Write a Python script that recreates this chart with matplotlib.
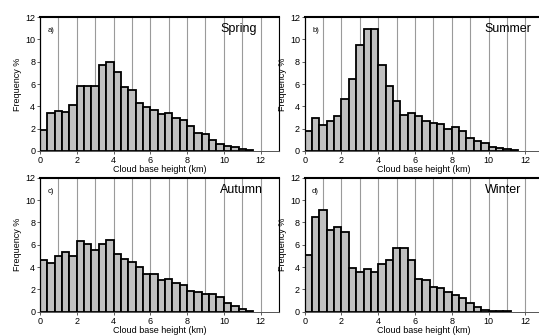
import numpy as np
import matplotlib
matplotlib.use("Agg")
import matplotlib.pyplot as plt

plt.rcParams['font.family'] = ['Liberation Sans', 'DejaVu Sans']

# bin left edges (km), 0.4 km bins
bin_width = 0.4

spring = [1.9, 3.4, 3.6, 3.5, 4.1, 5.85, 5.85, 5.85, 7.7, 8.0, 7.1, 5.75, 5.5,
          4.3, 3.9, 3.7, 3.3, 3.45, 2.95, 2.75, 2.2, 1.6, 1.5, 1.0, 0.65, 0.45,
          0.33, 0.15, 0.05]
summer = [1.75, 3.0, 2.35, 2.65, 3.1, 4.65, 6.45, 9.5, 10.95, 10.95, 7.7, 5.85,
          4.5, 3.2, 3.4, 3.1, 2.65, 2.5, 2.4, 1.95, 2.15, 1.8, 1.15, 0.9, 0.75,
          0.4, 0.3, 0.15, 0.05]
autumn = [4.65, 4.35, 4.95, 5.35, 4.95, 6.35, 6.1, 5.5, 6.1, 6.45, 5.2, 4.75,
          4.45, 4.05, 3.35, 3.4, 2.8, 2.9, 2.55, 2.35, 1.9, 1.75, 1.55, 1.55,
          1.3, 0.75, 0.5, 0.22, 0.03]
winter = [5.1, 8.45, 9.15, 7.3, 7.6, 7.1, 3.9, 3.55, 3.8, 3.6, 4.25, 4.65, 5.7,
          5.75, 4.6, 2.95, 2.8, 2.2, 2.1, 1.75, 1.5, 1.2, 0.8, 0.4, 0.12, 0.08,
          0.08, 0.03]

seasons = ['Spring', 'Summer', 'Autumn', 'Winter']
letters = ['a)', 'b)', 'c)', 'd)']
data = [spring, summer, autumn, winter]

fig = plt.figure(figsize=(5.39, 3.36), dpi=100)

w = 0.4434
h = 0.3985
positions = [(0.0742, 0.5506), (0.5653, 0.5506), (0.0742, 0.0723), (0.5653, 0.0723)]

for i in range(4):
    ax = fig.add_axes([positions[i][0], positions[i][1], w, h])
    vals = np.array(data[i])
    edges = np.arange(len(vals)) * bin_width
    for gx in range(1, 14):
        ax.axvline(gx, color='#9a9a9a', lw=0.8, zorder=0)
    ax.bar(edges, vals, width=bin_width, align='edge', color='#c0c0c0',
           edgecolor='black', linewidth=1.3, zorder=2)
    ax.set_xlim(0, 13)
    ax.set_ylim(0, 12)
    ax.set_xticks(np.arange(0, 13, 2))
    ax.set_yticks(np.arange(0, 13, 2))
    ax.tick_params(labelsize=6.5, length=2, width=0.6, pad=1.5, color='#444444')
    ax.set_xlabel('Cloud base height (km)', fontsize=6.5, labelpad=0)
    ax.set_ylabel('Frequency %', fontsize=6.5, labelpad=2)
    ax.spines['top'].set_linewidth(1.5)
    ax.spines['left'].set_linewidth(0.9)
    ax.spines['right'].set_linewidth(0.8)
    ax.spines['bottom'].set_linewidth(0.7)
    ax.spines['bottom'].set_color('#555555')
    ax.text(9.8, 10.9, seasons[i], fontsize=9, ha='left', va='center')
    ax.text(0.4, 10.8, letters[i], fontsize=5.5, ha='left', va='center')

fig.savefig('out.png', dpi=100)
